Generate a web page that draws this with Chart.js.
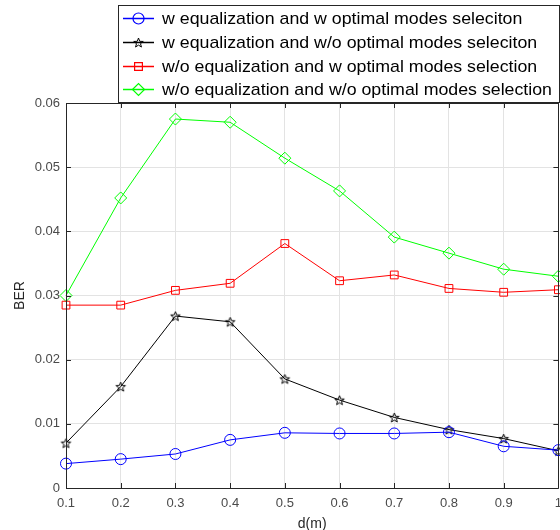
<!DOCTYPE html>
<html>
<head>
<meta charset="utf-8">
<title>BER vs distance</title>
<script src="https://cdn.jsdelivr.net/npm/chart.js@4/dist/chart.umd.min.js"></script>
<style>
    html, body { margin: 0; padding: 0; background: #fff; overflow: hidden; }
    #wrap { width: 570px; height: 530px; }
</style>
</head>
<body>
<div id="wrap"><canvas id="berChart" width="570" height="530"></canvas></div>
<script>
// distance (m)
const distances = [0.1, 0.2, 0.3, 0.4, 0.5, 0.6, 0.7, 0.8, 0.9, 1.0];

// BER for each configuration
const berEqOpt     = [0.0038, 0.0045, 0.0053, 0.0075, 0.0086, 0.0085, 0.0085, 0.0087, 0.0065, 0.0059];
const berEqNoOpt   = [0.0070, 0.0158, 0.0268, 0.0259, 0.0170, 0.0137, 0.0110, 0.0091, 0.0077, 0.0058];
const berNoEqOpt   = [0.0285, 0.0285, 0.0308, 0.0319, 0.0381, 0.0323, 0.0332, 0.0311, 0.0305, 0.0309];
const berNoEqNoOpt = [0.0300, 0.0452, 0.0575, 0.0570, 0.0514, 0.0463, 0.0391, 0.0366, 0.0341, 0.0330];

const seriesLabels = [
    'w equalization and w optimal modes seleciton',
    'w equalization and w/o optimal modes seleciton',
    'w/o equalization and w optimal modes selection',
    'w/o equalization and w/o optimal modes selection'
];

const yTicks = [0, 0.01, 0.02, 0.03, 0.04, 0.05, 0.06];

const axisColor = '#262626';
const tickColor = '#4a4a4a';
const gridColor = '#e3e3e3';
const fontFamily = '"Liberation Sans", Arial, sans-serif';

// five pointed star marker, drawn once and reused
function makeStar(color, r) {
    const c = document.createElement('canvas');
    const s = Math.ceil(r * 2 + 3);
    c.width = s;
    c.height = s;
    const g = c.getContext('2d');
    g.translate(s / 2, s / 2 + 0.5);
    g.beginPath();
    for (let i = 0; i < 10; i++) {
        const rad = i % 2 === 0 ? r : r * 0.42;
        const a = -Math.PI / 2 + i * Math.PI / 5;
        g.lineTo(rad * Math.cos(a), rad * Math.sin(a));
    }
    g.closePath();
    g.strokeStyle = color;
    g.lineWidth = 1;
    g.stroke();
    return c;
}

function toPoints(values) {
    return distances.map((d, i) => ({ x: d, y: values[i] }));
}

function series(label, values, color, style, radius) {
    return {
        label: label,
        data: toPoints(values),
        borderColor: color,
        backgroundColor: 'rgba(0,0,0,0)',
        borderWidth: 1,
        pointStyle: style,
        pointRadius: radius,
        pointHoverRadius: radius,
        pointBorderColor: color,
        pointBorderWidth: 1,
        pointBackgroundColor: 'rgba(0,0,0,0)',
        tension: 0,
        fill: false,
        clip: 8
    };
}

// box around the plot with inward ticks
const axesBox = {
    id: 'axesBox',
    afterDatasetsDraw(chart) {
        const { ctx, chartArea: a, scales } = chart;
        const len = 5;
        ctx.save();
        ctx.strokeStyle = axisColor;
        ctx.lineWidth = 1;
        ctx.beginPath();
        ctx.rect(Math.round(a.left) + 0.5, Math.round(a.top) + 0.5,
                 Math.round(a.right - a.left), Math.round(a.bottom - a.top));
        scales.x.ticks.forEach(t => {
            const px = Math.round(scales.x.getPixelForValue(t.value)) + 0.5;
            ctx.moveTo(px, a.bottom);
            ctx.lineTo(px, a.bottom - len);
            ctx.moveTo(px, a.top);
            ctx.lineTo(px, a.top + len);
        });
        scales.y.ticks.forEach(t => {
            const py = Math.round(scales.y.getPixelForValue(t.value)) + 0.5;
            ctx.moveTo(a.left, py);
            ctx.lineTo(a.left + len, py);
            ctx.moveTo(a.right, py);
            ctx.lineTo(a.right - len, py);
        });
        ctx.stroke();
        ctx.restore();
    }
};

// boxed legend sitting over the top of the plot
const boxLegend = {
    id: 'boxLegend',
    afterDraw(chart) {
        const ctx = chart.ctx;
        const left = 118.5, top = 5.5, right = 559.5, bottom = 102.5;
        const rows = [18.5, 42.5, 66.5, 89.5];
        const textX = 162, textW = 390;
        ctx.save();
        ctx.fillStyle = '#fff';
        ctx.fillRect(left, top, right - left, bottom - top);
        ctx.strokeStyle = axisColor;
        ctx.lineWidth = 1;
        ctx.strokeRect(left, top, right - left, bottom - top);
        ctx.font = '17px ' + fontFamily;
        ctx.textBaseline = 'middle';
        // the text runs a little wide, stretch it to the box
        const widest = Math.max(...chart.data.datasets.map(ds => ctx.measureText(ds.label).width));
        const sx = textW / widest;
        chart.data.datasets.forEach((ds, i) => {
            const y = rows[i];
            ctx.strokeStyle = ds.borderColor;
            ctx.lineWidth = 1.5;
            ctx.beginPath();
            ctx.moveTo(123, y);
            ctx.lineTo(154, y);
            ctx.stroke();
            ctx.lineWidth = 1.2;
            ctx.fillStyle = 'rgba(0,0,0,0)';
            Chart.helpers.drawPoint(ctx, {
                pointStyle: ds.pointStyle,
                radius: ds.pointRadius,
                rotation: 0,
                borderWidth: 1
            }, 138.5, y);
            ctx.save();
            ctx.translate(textX, y + 1);
            ctx.scale(sx, 1);
            ctx.fillStyle = '#000';
            ctx.fillText(ds.label, 0, 0);
            ctx.restore();
        });
        ctx.restore();
    }
};

const ctx = document.getElementById('berChart').getContext('2d');

new Chart(ctx, {
    type: 'line',
    data: {
        datasets: [
            series(seriesLabels[0], berEqOpt, '#0000ff', 'circle', 5.5),
            series(seriesLabels[1], berEqNoOpt, '#000000', makeStar('#000000', 5), 5),
            series(seriesLabels[2], berNoEqOpt, '#ff0000', 'rect', 5.5),
            series(seriesLabels[3], berNoEqNoOpt, '#00ff00', 'rectRot', 6)
        ]
    },
    options: {
        responsive: false,
        animation: false,
        devicePixelRatio: 1,
        layout: { padding: { top: 103, right: 7, left: 0, bottom: 0 } },
        plugins: {
            legend: { display: false },
            tooltip: { enabled: false }
        },
        scales: {
            x: {
                type: 'linear',
                min: 0.1,
                max: 1,
                afterFit(scale) { scale.height = 42; },
                ticks: {
                    stepSize: 0.1,
                    padding: 8,
                    color: tickColor,
                    font: { family: fontFamily, size: 13 },
                    callback: v => String(+v.toFixed(1)),
                    maxRotation: 0
                },
                grid: { color: gridColor, drawTicks: false },
                border: { display: false },
                title: {
                    display: true,
                    text: 'd(m)',
                    color: axisColor,
                    font: { family: fontFamily, size: 14 },
                    padding: { top: 0, bottom: -3 }
                }
            },
            y: {
                min: 0,
                max: 0.06,
                afterFit(scale) { scale.width = 66; },
                afterBuildTicks(scale) { scale.ticks = yTicks.map(v => ({ value: v })); },
                ticks: {
                    padding: 6,
                    color: tickColor,
                    font: { family: fontFamily, size: 13 },
                    callback: v => String(+v.toFixed(2))
                },
                grid: { color: gridColor, drawTicks: false },
                border: { display: false },
                title: {
                    display: true,
                    text: 'BER',
                    color: axisColor,
                    font: { family: fontFamily, size: 14 },
                    padding: { top: 12, bottom: 0 }
                }
            }
        }
    },
    plugins: [axesBox, boxLegend]
});
</script>
</body>
</html>
